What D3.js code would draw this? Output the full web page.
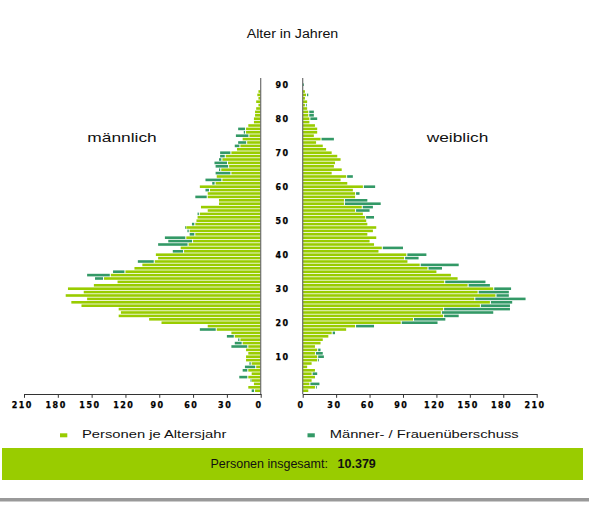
<!DOCTYPE html>
<html>
<head>
<meta charset="utf-8">
<script src="https://cdn.jsdelivr.net/npm/d3@7"></script>
<style>
  body { margin: 0; background: #fff; }
  svg { display: block; }
  text { font-family: "Liberation Sans", Arial, Helvetica, sans-serif; fill: #111; }
  .num { font-family: "DejaVu Sans", Verdana, sans-serif; font-weight: bold; font-size: 8px; letter-spacing: 1.5px; fill: #000; stroke: #000; stroke-width: 0.25px; }
</style>
</head>
<body>
<svg id="chart" width="589" height="506"></svg>
<script>
// Einwohner nach Altersjahr (0 bis 90), getrennt nach Geschlecht
const ages = d3.range(0, 91);

const male = [
  8, 11, 6, 9, 19, 8, 16, 14, 10, 13,
  13, 11, 13, 26, 23, 20, 30, 26, 54, 47,
  88, 99, 126, 124, 126, 159, 168, 154, 173, 157,
  171, 148, 127, 147, 154, 131, 112, 105, 109, 91,
  93, 78, 71, 91, 82, 85, 63, 65, 67, 61,
  57, 56, 56, 47, 53, 37, 37, 58, 47, 49,
  54, 43, 49, 39, 40, 37, 40, 41, 37, 36,
  36, 21, 23, 20, 16, 22, 15, 20, 11, 6,
  6, 5, 5, 4, 2, 4, 2, 3, 2, 0,
  0
];

const female = [
  5, 12, 15, 8, 11, 13, 11, 4, 8, 14,
  19, 18, 16, 11, 16, 18, 23, 29, 39, 64,
  121, 128, 140, 171, 186, 186, 188, 200, 185, 185,
  187, 168, 164, 139, 133, 120, 125, 140, 94, 104,
  111, 68, 90, 64, 60, 66, 58, 63, 66, 58,
  57, 64, 54, 60, 63, 70, 58, 47, 51, 45,
  65, 40, 34, 45, 26, 35, 28, 29, 34, 31,
  26, 21, 18, 12, 28, 10, 13, 13, 11, 6,
  13, 10, 10, 4, 3, 4, 2, 5, 2, 0,
  1
];

const xTicks = [0, 30, 60, 90, 120, 150, 180, 210];
const ageTicks = [10, 20, 30, 40, 50, 60, 70, 80, 90];
const totalLabel = "10.379";

const GREEN = "#99cc00";
const TEAL = "#339966";

const svg = d3.select("#chart");

// Skalen: Alter vertikal, Personen horizontal (links Männer, rechts Frauen)
const y = d3.scaleLinear().domain([0, 90]).range([390.7, 84.7]);
const barH = 2.6;
const xL = d3.scaleLinear().domain([0, 210]).range([260.7, 24]);
const xR = d3.scaleLinear().domain([0, 210]).range([302.7, 536.7]);

const rows = ages.map((a, i) => ({
  age: a, m: male[i], f: female[i], common: Math.min(male[i], female[i])
}));

// Titel und Beschriftungen
svg.append("text").attr("x", 246.7).attr("y", 38.3)
  .attr("font-size", 12.5).attr("textLength", 91.6).attr("lengthAdjust", "spacingAndGlyphs")
  .text("Alter in Jahren");
svg.append("text").attr("x", 87.3).attr("y", 141.7)
  .attr("font-size", 13.5).attr("textLength", 69.4).attr("lengthAdjust", "spacingAndGlyphs")
  .text("männlich");
svg.append("text").attr("x", 426.7).attr("y", 142.2)
  .attr("font-size", 13.5).attr("textLength", 61.6).attr("lengthAdjust", "spacingAndGlyphs")
  .text("weiblich");

// Gemeinsamer Anteil je Altersjahr (grün)
const bars = svg.append("g");
bars.selectAll("rect.ml").data(rows).join("rect").attr("class", "ml")
  .attr("x", d => xL(d.common)).attr("width", d => xL(0) - xL(d.common))
  .attr("y", d => y(d.age) - barH / 2).attr("height", barH).attr("fill", GREEN);
bars.selectAll("rect.fr").data(rows).join("rect").attr("class", "fr")
  .attr("x", xR(0)).attr("width", d => xR(d.common) - xR(0))
  .attr("y", d => y(d.age) - barH / 2).attr("height", barH).attr("fill", GREEN);

// Überschuss (dunkelgrün) auf der jeweils stärkeren Seite
const gap = d => (d.common > 0 ? 1 : 0);
bars.selectAll("rect.ms").data(rows.filter(d => d.m > d.f)).join("rect").attr("class", "ms")
  .attr("x", d => xL(d.m))
  .attr("width", d => Math.max(0.8, xL(d.common) - xL(d.m) - gap(d)))
  .attr("y", d => y(d.age) - barH / 2).attr("height", barH).attr("fill", TEAL);
bars.selectAll("rect.fs").data(rows.filter(d => d.f > d.m)).join("rect").attr("class", "fs")
  .attr("x", d => xR(d.common) + gap(d))
  .attr("width", d => Math.max(0.8, xR(d.f) - xR(d.common) - gap(d)))
  .attr("y", d => y(d.age) - barH / 2).attr("height", barH).attr("fill", TEAL);

// Senkrechte Achsenlinien
[xL(0), xR(0)].forEach(x => {
  svg.append("line").attr("x1", x).attr("x2", x).attr("y1", 78).attr("y2", 394)
    .attr("stroke", "#6e6e6e").attr("stroke-width", 1.2);
});

// Altersbeschriftung in der Mitte
svg.append("g").selectAll("text").data(ageTicks).join("text")
  .attr("class", "num")
  .attr("x", (xL(0) + xR(0)) / 2 + 0.8)
  .attr("y", d => y(d) + 2.9)
  .attr("text-anchor", "middle")
  .text(d => d);

// Horizontale Achsen
function styleAxis(g) {
  g.select(".domain").attr("stroke", "#333").attr("stroke-width", 1);
  g.selectAll(".tick line").attr("stroke", "#333");
  g.selectAll(".tick text").attr("class", "num")
    .attr("y", 8.4).attr("dx", -2.2).attr("dy", "0.71em");
}
svg.append("g").attr("transform", "translate(0,394)")
  .call(d3.axisBottom(xL).tickValues(xTicks).tickSize(3.8).tickSizeOuter(0))
  .call(styleAxis);
svg.append("g").attr("transform", "translate(0,394)")
  .call(d3.axisBottom(xR).tickValues(xTicks).tickSize(3.8).tickSizeOuter(0))
  .call(styleAxis);

// Legende
svg.append("rect").attr("x", 60).attr("y", 433.3).attr("width", 7.3).attr("height", 4).attr("fill", GREEN);
svg.append("text").attr("x", 82).attr("y", 438.4).attr("font-size", 11.2)
  .attr("textLength", 144.3).attr("lengthAdjust", "spacingAndGlyphs")
  .text("Personen je Altersjahr");
svg.append("rect").attr("x", 307.5).attr("y", 433.3).attr("width", 7.3).attr("height", 4).attr("fill", TEAL);
svg.append("text").attr("x", 329.7).attr("y", 438.4).attr("font-size", 11.2)
  .attr("textLength", 189).attr("lengthAdjust", "spacingAndGlyphs")
  .text("Männer- / Frauenüberschuss");

// Gesamtsumme
svg.append("rect").attr("x", 2).attr("y", 448).attr("width", 581).attr("height", 32).attr("fill", GREEN);
svg.append("text").attr("x", 210.5).attr("y", 468.3).attr("font-size", 12.5)
  .text("Personen insgesamt:");
svg.append("text").attr("x", 337.6).attr("y", 468.3).attr("font-size", 12.5).attr("font-weight", "bold")
  .text(totalLabel);

// Abschlusslinie
svg.append("rect").attr("x", 0).attr("y", 498).attr("width", 589).attr("height", 3.5).attr("fill", "#999");
</script>
</body>
</html>
